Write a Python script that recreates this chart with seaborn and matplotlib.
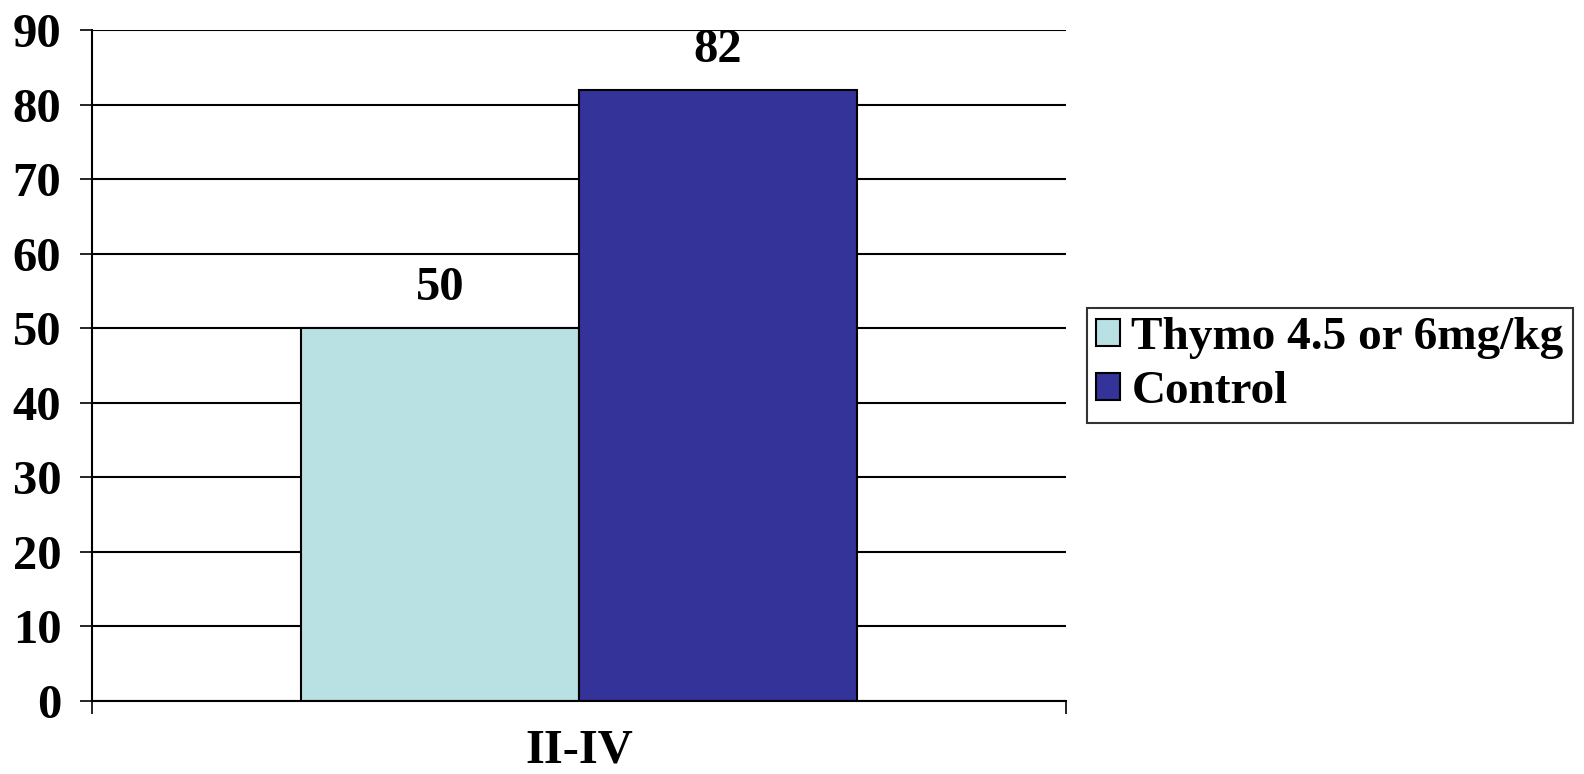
import matplotlib
matplotlib.use('Agg')
import matplotlib.pyplot as plt
import pandas as pd
import seaborn as sns

stages = ['II-IV', 'II-IV']
groups = ['Thymo 4.5 or 6mg/kg', 'Control']
values = [50, 82]
colors = ['#B9E0E3', '#333399']
y_ticks = [0, 10, 20, 30, 40, 50, 60, 70, 80, 90]

sns.set_style('white')
plt.rcParams['font.family'] = ['Liberation Serif', 'DejaVu Serif']
plt.rcParams['font.weight'] = 'bold'
plt.rcParams['text.color'] = 'black'
plt.rcParams['xtick.color'] = 'black'
plt.rcParams['ytick.color'] = 'black'
plt.rcParams['xtick.bottom'] = True
plt.rcParams['ytick.left'] = True

df = pd.DataFrame({'stage': stages, 'group': groups, 'value': values})

fig = plt.figure(figsize=(15.84, 7.74), dpi=100)
ax = fig.add_axes([0.0581, 0.0943, 0.615, 0.867])

sns.barplot(data=df, x='stage', y='value', hue='group', palette=colors, saturation=1,
            width=0.571, edgecolor='black', linewidth=1.5, ax=ax, legend=True)

for c in ax.containers:
    ax.bar_label(c, padding=13, fontsize=35, fontweight='bold', color='black')

ax.set_ylim(0, 90)
ax.set_xlim(-0.5, 0.5)
ax.set_yticks(y_ticks)
ax.yaxis.grid(True, color='black', linewidth=1.5)
ax.set_axisbelow(True)
ax.set_xlabel('')
ax.set_ylabel('')
for s in ['top', 'right']:
    ax.spines[s].set_visible(False)
for s in ['left', 'bottom']:
    ax.spines[s].set_color('black')
    ax.spines[s].set_linewidth(1.5)

# category boundaries get the tick marks, the label sits in the middle
ax.set_xticks([-0.5, 0.5], minor=False)
ax.set_xticklabels(['', ''])
ax.tick_params(axis='x', which='major', direction='out', length=9, width=1.2, color='black')
ax.set_xticks([0], minor=True)
ax.set_xticklabels(['II-IV'], minor=True, fontsize=35, fontweight='bold')
ax.tick_params(axis='x', which='minor', length=0, pad=20)
ax.tick_params(axis='y', direction='out', length=9, width=1.2, color='black', pad=13,
               labelsize=35)
for t in ax.get_yticklabels():
    t.set_fontweight('bold')

leg = ax.legend(loc='center left', bbox_to_anchor=(0.686, 0.528), bbox_transform=fig.transFigure,
                frameon=True, fancybox=False, edgecolor='black', fontsize=34,
                handlelength=0.5, handleheight=0.5, handletextpad=0.25,
                borderpad=0.2, labelspacing=0.25, borderaxespad=0)
leg.get_frame().set_linewidth(1.5)
for t in leg.get_texts():
    t.set_fontweight('bold')
    t.set_color('black')

fig.savefig('out.png', dpi=100)
